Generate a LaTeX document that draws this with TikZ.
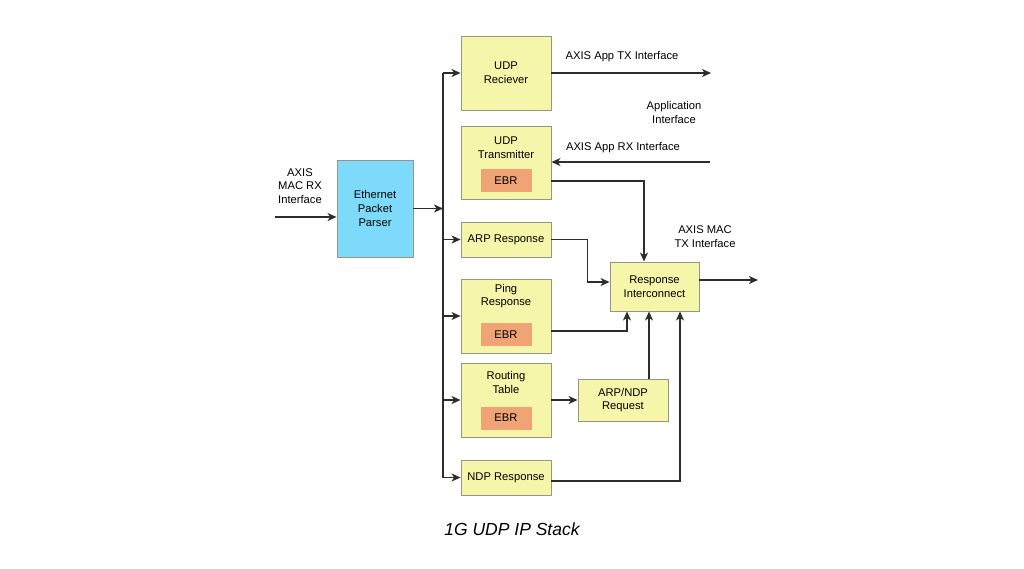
\documentclass[tikz,border=0pt]{standalone}
\usepackage{fontspec}
\setmainfont{Liberation Sans}
\usetikzlibrary{arrows.meta}
\definecolor{boxyellow}{RGB}{246,246,170}
\definecolor{parserblue}{RGB}{126,218,250}
\definecolor{ebrorange}{RGB}{240,163,116}
\definecolor{edgegray}{RGB}{150,150,130}
\definecolor{wiregray}{RGB}{45,45,45}

\begin{document}
\begin{tikzpicture}[x=1pt,y=-1pt,
  every node/.style={font=\fontsize{11.2}{13.7}\selectfont,align=center,inner sep=0pt},
  block/.style={draw=edgegray,line width=0.9pt,fill=boxyellow,minimum width=90,minimum height=74},
  ebr/.style={fill=ebrorange,minimum width=51,minimum height=23},
  wire/.style={draw=wiregray,line width=1.3pt},
  arr/.style={wire,-{Stealth[length=9pt,width=8pt,inset=2.5pt]}}]
\useasboundingbox[fill=white] (0,0) rectangle (1024,568);

\node[block,fill=parserblue,minimum width=76,minimum height=97] (parser) at (375,208.5) {Ethernet\\Packet\\Parser};
\node[block] (udprx) at (506,73) {UDP\\Reciever};
\node[block,minimum height=73] (udptx) at (506,162.5) {};
\node (udptxlabel) at (506,148) {UDP\\Transmitter};
\node[ebr] (udptxebr) at (506,180.5) {EBR};
\node[block,minimum height=35] (arpresp) at (506,239.5) {ARP Response};
\node[block] (ping) at (506,316) {};
\node (pinglabel) at (506,296) {Ping\\Response};
\node[ebr] (pingebr) at (506,334.5) {EBR};
\node[block] (routing) at (506,400) {};
\node (routinglabel) at (506,382.5) {Routing\\Table};
\node[ebr] (routingebr) at (506,418) {EBR};
\node[block,minimum height=35] (ndp) at (506,477.5) {NDP Response};
\node[block,minimum height=42] (arpndp) at (623,400) {ARP/NDP\\Request};
\node[block,minimum width=89,minimum height=49] (respic) at (654.5,286.5) {Response\\Interconnect};

\coordinate (bus) at (443,0);
\coordinate (macrx) at (275,217);
\coordinate (apptx) at (711,73);
\coordinate (apprx) at (710,162);
\coordinate (mactx) at (758,280);

\node (macrxlabel) at (300,186) {AXIS\\MAC RX\\Interface};
\node (apptxlabel) at (622,57) {AXIS App TX Interface};
\node (applabel) at (674,112.5) {Application\\Interface};
\node (apprxlabel) at (623,148) {AXIS App RX Interface};
\node (mactxlabel) at (705,236.5) {AXIS MAC\\TX Interface};

\draw[arr] (macrx) -- (macrx -| parser.west);
\draw[arr] (parser) -- (bus |- parser);
\draw[wire] (bus |- udprx) -- (bus |- ndp);
\draw[arr] (bus |- udprx) -- (udprx);
\draw[arr] (bus |- arpresp) -- (arpresp);
\draw[arr] (bus |- ping) -- (ping);
\draw[arr] (bus |- routing) -- (routing);
\draw[arr] (bus |- ndp) -- (ndp);

\draw[arr] (udprx) -- (apptx);
\draw[arr] (apprx) -- (apprx -| udptx.east);
\draw[arr] ([yshift=-18.5]udptx.east) -| ([xshift=-10.5]respic.north);
\draw[arr] (arpresp.east) -- ++(36,0) |- ([yshift=4.5]respic.west);
\draw[arr] ([yshift=-15]ping.east) -| ([xshift=-27.5]respic.south);
\draw[arr] (routing) -- (arpndp);
\draw[arr] ([xshift=26]arpndp.north) -- ([xshift=26]arpndp.north |- respic.south);
\draw[arr] ([yshift=-3.5]ndp.east) -| ([xshift=25.5]respic.south);
\draw[arr] ([yshift=6.5]respic.east) -- (mactx);

\node[font=\fontsize{17.5}{20}\selectfont\itshape] (caption) at (512,529) {1G UDP IP Stack};
\end{tikzpicture}
\end{document}
